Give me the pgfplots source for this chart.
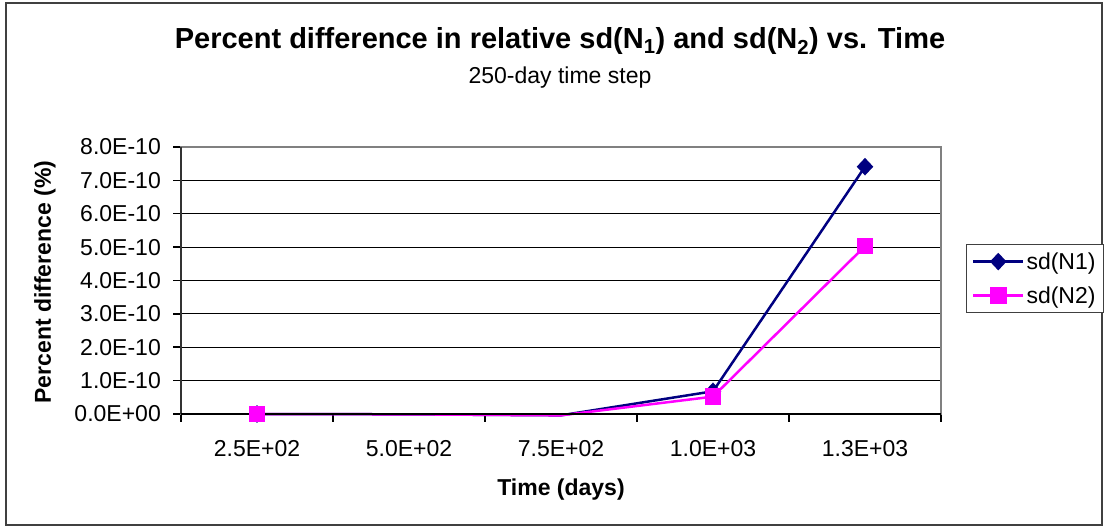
\documentclass[border=0pt]{standalone}
\usepackage{fontspec}
\setmainfont{Liberation Sans}
\usepackage{pgfplots}
\pgfplotsset{compat=1.18}
\definecolor{navyline}{HTML}{000080}
\definecolor{magline}{HTML}{FF00FF}
\begin{document}
\begin{tikzpicture}[x=1pt,y=1pt]
\path[use as bounding box] (0,0) rectangle (1107,529);
\draw[line width=1.5pt, black!75] (6,4) rectangle (1102,526);
\node[font=\fontsize{29}{33}\selectfont\bfseries] at (560,488) {Percent difference in relative sd(N\textsubscript{1}) and sd(N\textsubscript{2}) vs. Time};
\node[font=\fontsize{23}{27}\selectfont] at (560,451) {250-day time step};
\begin{axis}[
  at={(181pt,115pt)}, anchor=south west,
  scale only axis, width=760pt, height=267pt,
  xmin=0.5, xmax=5.5, ymin=0, ymax=8e-10,
  clip=false,
  xtick={1,2,3,4,5},
  xticklabels={2.5E+02,5.0E+02,7.5E+02,1.0E+03,1.3E+03},
  minor xtick={0.5,1.5,2.5,3.5,4.5,5.5},
  ytick={0,1e-10,2e-10,3e-10,4e-10,5e-10,6e-10,7e-10,8e-10},
  yticklabels={0.0E+00,1.0E-10,2.0E-10,3.0E-10,4.0E-10,5.0E-10,6.0E-10,7.0E-10,8.0E-10},
  scaled y ticks=false,
  xtick pos=lower, ytick pos=left,
  tick align=outside,
  major tick length=8pt, minor tick length=8pt,
  major x tick style={draw=none},
  minor x tick style={black, line width=1.5pt},
  major y tick style={black, line width=1.5pt},
  ymajorgrids, major y grid style={black, line width=1.2pt},
  axis line style={draw=black!50, line width=2.5pt},
  tick label style={font=\fontsize{23}{27}\selectfont},
  xticklabel style={anchor=base, yshift=-35pt, inner sep=0pt},
  yticklabel style={anchor=east, xshift=-12pt, inner sep=0pt},
  xlabel={Time (days)},
  ylabel={Percent difference (\%)},
  label style={font=\fontsize{23}{27}\selectfont\bfseries},
  xlabel style={at={(axis description cs:0.5,0)}, anchor=center, yshift=-76pt},
  ylabel style={at={(axis description cs:-0.1789,0.494)}, anchor=center},
  legend style={at={(axis description cs:1.2145,0.6367)}, anchor=north east,
    draw=black!75, line width=1pt, font=\fontsize{23}{27}\selectfont,
    inner xsep=6pt, inner ysep=6pt, row sep=12pt},
  legend cell align=left,
  legend image code/.code={\draw[#1, mark indices={2}] plot coordinates {(0pt,0pt) (25pt,0pt) (50pt,0pt)};},
]
\addplot[navyline, line width=2.5pt, mark=diamond*, mark size=7pt, mark options={xscale=1.25, solid}, mark indices={1,4,5}]
  coordinates {(1,0) (2,-1e-12) (3,-4e-12) (4,6.8e-11) (5,7.41e-10)};
\addlegendentry{sd(N1)}
\addplot[magline, line width=2.5pt, mark=square*, mark size=7pt, mark options={solid}, mark indices={1,4,5}]
  coordinates {(1,0) (2,-1e-12) (3,-4e-12) (4,5.2e-11) (5,5.03e-10)};
\addlegendentry{sd(N2)}
\draw[black!80, line width=2.5pt] (rel axis cs:0,0) -- (rel axis cs:0,1);
\draw[black, line width=2pt] (rel axis cs:0,0) -- (rel axis cs:1,0);
\end{axis}
\end{tikzpicture}
\end{document}
